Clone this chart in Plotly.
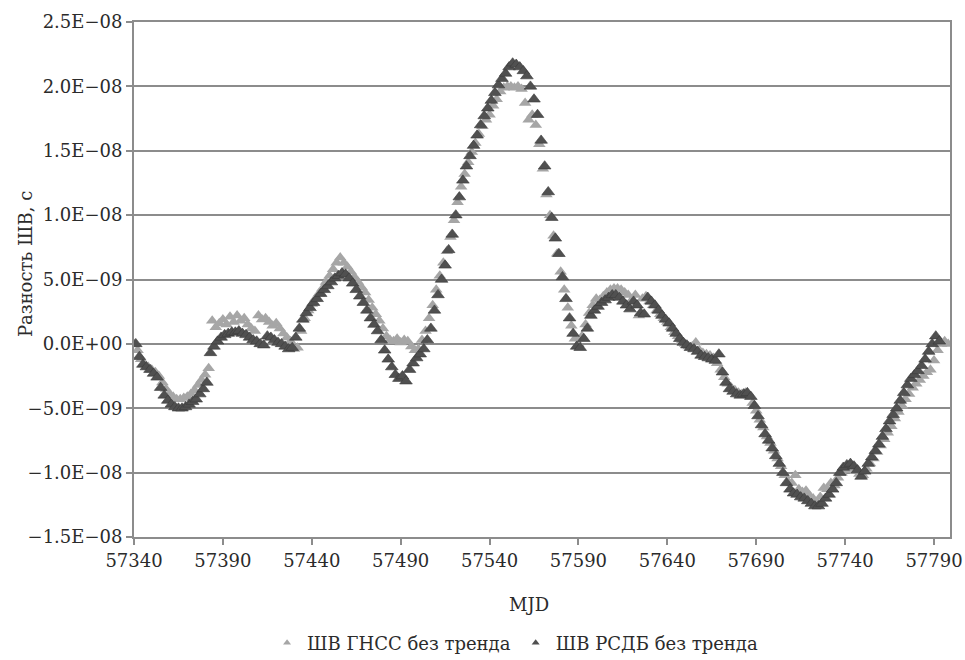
import plotly.graph_objects as go

# ---- data (values in units of 1e-9 s) ----
gnss_mjd = list(range(57340, 57800, 2))
gnss_val = [
    0.0, -0.5, -1.2, -1.6, -1.8, -2.0, -2.2, -2.5, -3.0, -3.5,
    -3.9, -4.1, -4.3, -4.3, -4.2, -4.1, -3.9, -3.6, -3.2, -2.8,
    -2.4, -1.9, 1.8, 1.3, 1.6, 1.9, 1.5, 2.1, 1.7, 2.2,
    1.8, 2.0, 1.5, 1.2, 1.0, 2.2, 1.9, 2.0, 1.7, 1.4,
    1.6, 1.2, 0.8, 0.5, 0.2, -0.4, -0.3, 1.0, 2.0, 2.6,
    3.1, 3.5, 3.9, 4.3, 4.8, 5.3, 5.8, 6.3, 6.7, 6.3,
    6.0, 5.6, 5.2, 4.8, 4.4, 4.0, 3.4, 2.8, 2.3, 1.8,
    1.2, 0.6, 0.3, 0.2, 0.4, 0.1, 0.3, 0.2, -0.2, -0.5,
    -0.4, 0.3, 1.0, 2.0, 3.0, 4.2, 5.3, 6.3, 7.2, 8.3,
    9.6, 11.0, 12.2, 13.2, 14.1, 14.9, 15.6, 16.3, 16.9, 17.4,
    17.8, 18.5, 19.0, 19.6, 19.9, 20.0, 20.0, 19.9, 20.0, 19.8,
    18.7, 17.4, 17.8, 17.0, 15.5, 13.6, 11.6, 10.0, 8.4, 7.0,
    5.6, 4.2, 2.8, 1.4, 0.4, 0.0, 0.6, 1.5, 2.4, 3.0,
    3.5, 3.4, 3.7, 4.0, 4.2, 4.3, 4.3, 4.2, 4.0, 3.8,
    3.4, 3.8, 2.2, 3.5, 3.7, 3.3, 3.0, 2.6, 2.3, 2.0,
    1.7, 1.3, 0.9, 0.6, 0.2, 0.0, -0.2, -0.2, 0.1, -0.5,
    -0.7, -0.8, -0.9, -1.1, -1.5, -2.0, -2.6, -3.1, -3.4, -3.6,
    -3.8, -3.9, -3.8, -4.0, -4.6, -5.2, -5.9, -6.5, -7.2, -7.7,
    -8.3, -8.9, -9.5, -10.2, -10.7, -10.8, -10.2, -11.3, -11.5, -11.4,
    -11.8, -12.0, -12.3, -11.9, -11.2, -11.3, -10.8, -11.0, -10.4, -10.0,
    -9.8, -9.7, -9.7, -9.9, -10.1, -10.2, -9.7, -9.3, -8.9, -8.4,
    -7.9, -7.4, -6.9, -6.4, -5.8, -5.3, -4.8, -4.3, -3.9, -3.4,
    -3.1, -2.8, -2.5, -2.2, -2.0, -1.3, -0.5, 0.0, 0.2, 0.0,
]

vlbi_mjd = list(range(57341, 57797, 2))
vlbi_val = [
    0.0, -1.0, -1.6, -1.8, -2.0, -2.3, -2.6, -3.4, -4.0, -4.4,
    -4.7, -4.9, -5.0, -5.0, -4.9, -4.7, -4.5, -4.3, -3.9, -3.5,
    -3.0, -0.7, -0.2, 0.2, 0.5, 0.7, 0.8, 0.9, 0.9, 1.0,
    0.8, 0.7, 0.5, 0.3, 0.2, 0.0, -0.1, 0.6, 0.5, 0.3,
    0.1, 0.0, -0.2, -0.4, -0.3, 0.5, 1.2, 1.9, 2.4, 2.8,
    3.2, 3.5, 3.9, 4.2, 4.5, 4.8, 5.1, 5.3, 5.5, 5.4,
    5.1, 4.7, 4.2, 3.7, 3.2, 2.6, 2.0, 1.5, 1.0, 0.3,
    -0.5, -1.2, -1.8, -2.4, -2.7, -2.5, -2.9, -2.0, -1.5, -1.1,
    -0.8, -0.4, 0.3, 1.2, 2.6, 3.8, 5.0, 6.1, 7.3, 8.5,
    10.0, 11.4, 12.7, 13.8, 14.6, 15.4, 16.2, 17.0, 17.7, 18.3,
    18.9, 19.5, 20.1, 20.6, 21.0, 21.5, 21.8, 21.7, 21.5, 21.2,
    20.8, 20.0, 19.0, 17.8, 15.8, 13.8, 11.8, 9.8, 8.2, 7.0,
    5.2, 3.5, 2.0, 0.8, -0.2, -0.3, 0.4, 1.2, 2.2, 2.6,
    2.9, 3.2, 3.4, 3.6, 3.8, 3.8, 3.6, 3.3, 3.0, 2.7,
    3.3, 3.0, 2.4, 2.3, 3.6, 3.3, 3.0, 2.6, 2.2, 1.9,
    1.6, 1.2, 0.8, 0.4, 0.1, -0.1, -0.3, -0.4, -0.6, -0.9,
    -1.0, -1.1, -1.2, -1.3, -0.8, -2.2, -3.0, -3.5, -3.7, -3.9,
    -4.0, -3.9, -3.8, -4.1, -4.8, -5.6, -6.3, -7.0, -7.5, -8.1,
    -8.7, -9.3, -10.0, -10.8, -11.3, -11.6, -11.7, -11.9, -12.0, -12.2,
    -12.4, -12.6, -12.6, -12.4, -12.0, -11.7, -11.3, -10.8, -10.0, -9.6,
    -9.4, -9.3, -9.5, -9.8, -10.3, -9.9, -9.3, -8.8, -8.3, -7.8,
    -7.2, -6.6, -6.0, -5.5, -5.0, -4.4, -3.8, -3.2, -2.7, -2.4,
    -2.1, -1.7, -1.2, -0.6, 0.0, 0.6, 0.2,
]

series_names = ["ШВ ГНСС без тренда", "ШВ РСДБ без тренда"]
series_colors = ["#a6a6a6", "#505050"]
y_tick_vals = [-15, -10, -5, 0, 5, 10, 15, 20, 25]
y_tick_text = ["\u22121.5E\u221208", "\u22121.0E\u221208", "\u22125.0E\u221209", "0.0E+00",
               "5.0E\u221209", "1.0E\u221208", "1.5E\u221208", "2.0E\u221208", "2.5E\u221208"]
x_tick_vals = list(range(57340, 57791, 50))
scale = 1e-9

FONT = "DejaVu Serif"
AXC = "#8c8c8c"
TXT = "#2b2b2b"

fig = go.Figure()
fig.add_trace(go.Scatter(
    x=gnss_mjd, y=[v * scale for v in gnss_val[:len(gnss_mjd)]],
    mode="markers", name=series_names[0], showlegend=False,
    marker=dict(symbol="triangle-up", size=11, color=series_colors[0], line=dict(width=0)),
))
fig.add_trace(go.Scatter(
    x=vlbi_mjd, y=[v * scale for v in vlbi_val[:len(vlbi_mjd)]],
    mode="markers", name=series_names[1], showlegend=False,
    marker=dict(symbol="triangle-up", size=11, color=series_colors[1], line=dict(width=0.6, color="#3a3a3a")),
))
# legend entries with small markers
for nm, col in zip(series_names, series_colors):
    fig.add_trace(go.Scatter(
        x=[None], y=[None], mode="markers", name=nm, showlegend=True,
        marker=dict(symbol="triangle-up", size=7, color=col, line=dict(width=0)),
    ))

fig.update_layout(
    width=965, height=660,
    margin=dict(l=134, r=15, t=22, b=123, autoexpand=False),
    paper_bgcolor="white", plot_bgcolor="white",
    font=dict(family=FONT, size=18, color=TXT),
    showlegend=True,
    legend=dict(orientation="h", x=0.467, xanchor="center", y=-0.206, yanchor="middle",
                font=dict(family=FONT, size=18, color=TXT),
                itemwidth=30, traceorder="normal"),
    xaxis=dict(
        range=[57340, 57799], tickvals=x_tick_vals, ticktext=[str(v) for v in x_tick_vals],
        showline=True, linecolor=AXC, linewidth=2, mirror=True,
        ticks="outside", ticklen=6, tickcolor=AXC, tickwidth=2,
        showgrid=False, zeroline=False, automargin=False,
        tickfont=dict(family=FONT, size=18, color=TXT),
    ),
    yaxis=dict(
        range=[-15e-9, 25e-9], tickvals=[v * scale for v in y_tick_vals], ticktext=y_tick_text,
        showline=True, linecolor=AXC, linewidth=2, mirror=True,
        ticks="outside", ticklen=6, tickcolor=AXC, tickwidth=2,
        showgrid=True, gridcolor=AXC, gridwidth=2, zeroline=False, automargin=False,
        tickfont=dict(family=FONT, size=18, color=TXT),
    ),
    annotations=[
        dict(text="Разность ШВ, с", x=-0.1336, y=0.53, xref="paper", yref="paper",
             textangle=-90, showarrow=False, xanchor="center", yanchor="middle",
             font=dict(family=FONT, size=18, color=TXT)),
        dict(text="MJD", x=0.484, y=-0.132, xref="paper", yref="paper",
             showarrow=False, xanchor="center", yanchor="middle",
             font=dict(family=FONT, size=18, color=TXT)),
    ],
)

fig.write_html("out.html", config={"displayModeBar": False},
               post_script="document.body.style.margin='0';")
